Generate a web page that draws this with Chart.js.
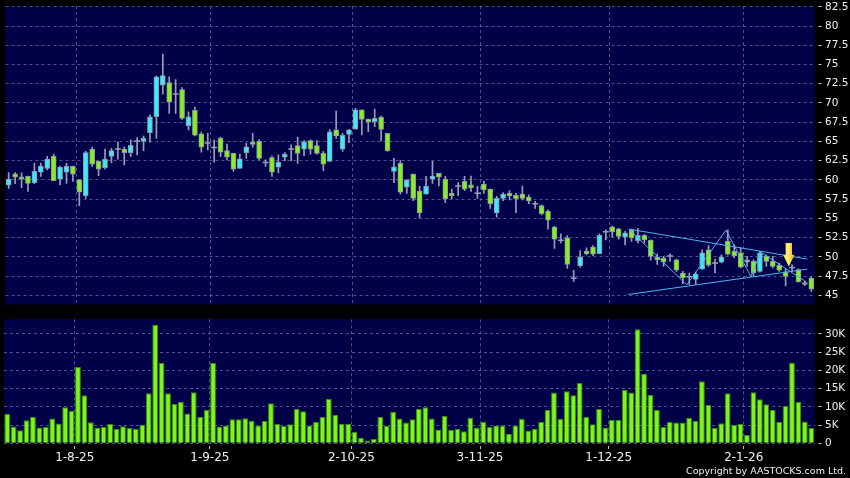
<!DOCTYPE html>
<html>
<head>
<meta charset="utf-8">
<script src="https://cdn.jsdelivr.net/npm/chart.js@4.4.1/dist/chart.umd.min.js"></script>
<style>
html, body { margin: 0; padding: 0; background: #000; }
#wrap { position: relative; width: 850px; height: 478px; overflow: hidden; background: #000; }
#pc { position: absolute; left: 0; top: 0; }
#vc { position: absolute; left: 0; top: 310px; }
#copy { position: absolute; right: 4px; top: 465px; font: 9.5px "DejaVu Sans"; line-height: 11px; color: #f0f0f0; white-space: nowrap; }
</style>
</head>
<body>
<div id="wrap">
  <canvas id="pc" width="850" height="310"></canvas>
  <canvas id="vc" width="850" height="168"></canvas>
  <div id="copy">Copyright by AASTOCKS.com Ltd.</div>
</div>
<script>
// daily candles, 18 Jul 2025 .. 19 Jan 2026 (126 sessions)
const opens = [59.3,60.8,60.4,60.45,59.65,61.0,61.5,63.05,60.1,61.0,
  61.75,60.05,57.95,64.0,62.4,61.6,63.05,64.0,64.0,63.55,
  65.05,65.0,66.15,68.2,72.3,72.65,71.15,71.75,67.05,69.05,
  66.0,64.8,64.2,65.4,63.8,63.45,61.5,63.55,64.9,65.0,
  62.25,62.9,61.65,62.95,64.0,64.45,64.0,65.1,64.45,63.45,
  62.4,66.5,64.0,65.9,66.6,69.1,67.9,67.55,68.15,66.05,
  61.1,62.15,59.05,60.75,58.55,58.15,60.1,60.85,60.1,58.25,
  59.2,59.8,59.35,58.25,59.45,58.8,55.7,57.6,58.25,58.0,
  58.15,57.75,56.9,56.65,55.9,53.85,52.15,52.45,47.2,48.8,
  50.75,51.25,50.4,53.25,53.9,53.65,52.55,53.5,52.1,52.8,
  52.15,49.95,49.85,50.1,49.6,47.9,47.4,47.05,48.4,50.9,
  49.2,49.3,52.0,50.7,50.5,49.3,49.4,48.1,50.05,49.4,
  48.9,48.05,48.6,48.35,46.6,47.25];
const highs = [60.95,60.95,60.9,60.5,62.15,62.15,63.05,63.35,61.8,62.15,
  61.8,60.05,63.7,64.25,62.45,64.0,64.1,64.9,64.25,65.2,
  65.5,65.7,68.45,73.5,76.35,73.4,73.05,72.0,68.85,69.45,
  66.2,66.05,65.2,65.55,64.65,63.45,63.35,64.75,66.05,65.25,
  62.6,63.1,63.25,63.55,64.55,65.55,65.1,65.2,65.1,63.7,
  66.55,68.95,66.05,66.55,69.3,69.1,67.9,69.2,68.3,66.05,
  62.8,62.5,60.0,60.75,59.15,60.45,62.4,60.85,60.45,58.8,
  59.65,60.45,60.5,59.15,59.85,58.8,57.85,58.35,58.6,58.25,
  59.2,58.05,57.2,56.75,56.1,53.95,53.0,52.75,48.25,50.8,
  51.15,51.45,53.0,53.5,54.0,53.7,53.3,53.6,53.7,52.9,
  52.2,50.4,50.05,50.4,49.7,48.1,47.9,48.0,50.9,51.45,
  49.7,50.25,53.5,51.55,51.15,50.05,49.6,50.7,50.25,50.05,
  49.2,48.4,49.0,48.45,46.8,47.4];
const lows = [58.9,59.5,59.0,58.5,59.5,60.45,61.3,59.9,59.35,59.55,
  59.8,56.65,57.6,61.75,60.55,61.4,62.25,62.7,61.95,63.05,
  63.25,63.8,64.9,65.4,71.15,68.65,68.65,67.85,66.5,65.7,
  63.6,63.9,62.3,63.05,62.6,61.1,61.5,62.8,64.25,62.6,
  61.75,60.45,60.95,62.5,62.5,62.15,63.15,63.35,63.35,61.2,
  62.4,65.4,63.7,64.85,66.6,65.85,66.25,66.9,65.05,63.7,
  59.65,58.15,58.25,57.3,55.05,58.15,59.55,59.2,57.05,57.55,
  57.95,58.6,58.5,57.6,58.25,56.3,55.15,57.3,57.4,55.75,
  57.4,56.9,56.3,55.45,53.6,51.1,51.8,48.5,46.8,48.65,
  50.25,50.15,50.4,52.2,52.55,52.3,51.55,52.0,51.8,51.8,
  49.55,49.0,48.75,49.4,48.1,46.5,46.4,46.4,48.35,48.75,
  47.9,49.2,50.25,49.85,48.55,48.75,47.55,48.0,48.75,48.55,
  48.1,46.2,48.1,46.7,46.25,45.5];
const closes = [60.1,60.35,60.1,59.55,61.1,61.8,62.7,59.9,61.65,61.75,
  60.75,58.4,63.55,62.05,61.4,62.7,63.8,64.0,63.55,64.5,
  65.05,65.4,68.2,73.4,73.55,70.1,71.15,68.0,68.2,65.8,
  64.25,64.8,64.2,63.6,62.95,61.4,62.75,64.3,64.6,62.8,
  62.25,61.0,62.3,63.35,64.0,63.45,64.95,64.0,63.45,62.05,
  66.25,65.7,65.8,66.5,69.1,67.85,67.5,68.0,66.55,63.8,
  61.7,58.4,60.0,57.6,55.7,59.2,60.5,60.35,57.55,57.95,
  59.2,58.8,58.95,58.25,58.7,56.9,57.6,58.15,57.95,57.55,
  57.6,57.25,56.9,55.6,54.75,52.3,52.15,49.0,47.2,49.95,
  50.4,50.35,52.8,53.25,53.25,52.65,53.1,52.45,52.8,52.2,
  50.05,49.6,49.3,50.1,48.25,47.25,47.4,47.75,50.5,48.9,
  49.2,49.95,50.35,50.15,48.65,49.6,47.9,50.5,49.4,48.75,
  48.25,47.45,48.6,46.75,46.4,45.8];
// volume in thousands of shares
const volumesK = [8.0,4.6,3.6,6.3,7.3,4.3,4.5,6.8,5.4,9.9,
  8.9,21.0,13.2,5.8,4.3,4.5,5.3,4.0,4.7,4.2,
  4.0,5.1,13.7,32.5,22.0,13.7,10.8,11.4,8.2,14.0,
  7.2,9.1,22.0,4.6,4.9,6.6,6.6,6.9,6.2,4.9,
  6.1,11.0,5.3,4.8,5.2,9.4,8.8,4.9,5.9,7.2,
  12.2,7.8,5.3,5.3,3.2,1.5,0.8,1.2,7.3,4.8,
  8.6,6.8,5.7,6.6,9.4,9.9,6.8,3.8,7.5,3.7,
  4.0,3.3,7.0,4.3,5.9,4.5,4.9,4.9,2.6,4.9,
  6.7,3.5,4.0,5.9,9.1,13.9,6.7,14.3,13.2,16.5,
  7.3,5.2,9.4,4.3,6.4,6.4,14.7,13.9,31.3,19.1,
  13.3,9.2,4.5,5.9,5.7,5.7,7.0,6.2,17.0,10.5,
  4.2,5.5,13.7,5.1,5.3,2.3,14.0,12.1,10.7,9.1,
  5.9,10.2,22.0,11.3,6.0,4.2];

// date ticks: session index of each labelled day
const tickIdx = [10, 31, 53, 73, 93, 114];
const tickLabels = ['1-8-25', '1-9-25', '2-10-25', '3-11-25', '1-12-25', '2-1-26'];
const priceTicks = [45, 47.5, 50, 52.5, 55, 57.5, 60, 62.5, 65, 67.5, 70, 72.5, 75, 77.5, 80, 82.5];
const volTicks = [0, 5, 10, 15, 20, 25, 30];

// drawn pattern lines (session index, price)
const upperLine = [{x: 96.6, y: 53.6}, {x: 124.4, y: 49.7}];
const lowerLine = [{x: 96.5, y: 45.1}, {x: 124.4, y: 48.4}];
const zigzag = [{x: 96.6, y: 53.6}, {x: 105.6, y: 46.35}, {x: 111.7, y: 53.45},
  {x: 115.6, y: 47.45}, {x: 117.1, y: 50.6}, {x: 124.1, y: 46.8}];
const arrowMark = {x: 121.5, top: 51.8, tip: 48.75};

const NAVY = '#000048';
const GRID = 'rgba(110,110,160,0.75)';
const TXT = '#f0f0f0';
const UP = '#3ee8ff', DOWN = '#86ef1e', WICK = '#9c9cb8';

Chart.defaults.font.family = 'DejaVu Sans';

const navyBg = {
  id: 'navyBg',
  beforeDraw(c) {
    const a = c.chartArea, g = c.ctx;
    g.save();
    g.fillStyle = NAVY;
    g.fillRect(a.left, a.top, a.right - a.left, a.bottom - a.top);
    g.restore();
  }
};

const arrowPlugin = {
  id: 'arrow',
  afterDatasetsDraw(c) {
    const g = c.ctx, xs = c.scales.x, ys = c.scales.y;
    const cx = xs.getPixelForValue(arrowMark.x);
    const yt = ys.getPixelForValue(arrowMark.top);
    const yb = ys.getPixelForValue(arrowMark.tip);
    const neck = yt + (yb - yt) * 0.5;
    const grad = g.createLinearGradient(cx - 6, 0, cx + 6, 0);
    grad.addColorStop(0, '#ffd82a');
    grad.addColorStop(0.45, '#fff27c');
    grad.addColorStop(1, '#e8a000');
    g.save();
    g.fillStyle = grad;
    g.beginPath();
    g.moveTo(cx - 3.2, yt);
    g.lineTo(cx + 3.2, yt);
    g.lineTo(cx + 3.2, neck);
    g.lineTo(cx + 5.8, neck);
    g.lineTo(cx, yb);
    g.lineTo(cx - 5.8, neck);
    g.lineTo(cx - 3.2, neck);
    g.closePath();
    g.fill();
    g.restore();
  }
};

function xAxis(showLabels) {
  return {
    type: 'linear', min: -0.5, max: 125.5, offset: false,
    afterBuildTicks: s => { s.ticks = tickIdx.map(i => ({value: i + 0.5})); },
    afterFit: s => { s.height = showLabels ? 34.7 : 0; s.paddingLeft = 0; s.paddingRight = 0; },
    ticks: {
      display: showLabels, autoSkip: false, maxRotation: 0, padding: 1.5,
      color: TXT, font: {size: 12},
      callback: (v, k) => tickLabels[k]
    },
    grid: {offset: false, color: GRID, lineWidth: 1, drawTicks: showLabels, tickLength: 6,
      tickColor: '#c0c0c0', tickBorderDash: [0, 3, 3, 20], borderDash: [3, 3]},
    border: {display: false, dash: [3, 3]}
  };
}

function yAxis(min, max, ticks, fmt) {
  return {
    position: 'right', min: min, max: max,
    afterBuildTicks: s => { s.ticks = ticks.map(v => ({value: v})); },
    afterFit: s => { s.width = 35.5; s.paddingTop = 0; s.paddingBottom = 0; },
    ticks: {color: TXT, font: {size: 10.5}, padding: 3.5, callback: fmt},
    grid: {color: GRID, lineWidth: 1, tickLength: 7, tickColor: '#c8c8c8',
      tickBorderDash: [0, 3.5, 3, 20], borderDash: [3, 3]},
    border: {display: false, dash: [3, 3]}
  };
}

// candle pieces built from the OHLC arrays
const wickData = lows.map((l, i) => ({x: i, y: [l, highs[i]]}));
const bodyData = [], bodyFill = [];
const dojiData = [];
opens.forEach((o, i) => {
  const c = closes[i];
  if (o === c) { dojiData.push({x: i, y: o}); return; }
  bodyData.push({x: i, y: [o, c]});
  bodyFill.push(c > o ? UP : DOWN);
});

const common = {
  responsive: false, animation: false, devicePixelRatio: 1, events: [],
  plugins: {legend: {display: false}, tooltip: {enabled: false}}
};

new Chart(document.getElementById('pc'), {
  type: 'bar',
  data: {
    datasets: [
      {type: 'line', data: upperLine, borderColor: '#52b2f0', borderWidth: 1, pointRadius: 0, order: 0},
      {type: 'line', data: lowerLine, borderColor: '#52b2f0', borderWidth: 1, pointRadius: 0, order: 0},
      {type: 'line', data: zigzag, borderColor: '#52b2f0', borderWidth: 1, pointRadius: 0, order: 0},
      {type: 'line', data: dojiData, showLine: false, pointStyle: 'line', pointRadius: 3,
        pointBorderColor: WICK, pointBorderWidth: 1.5, order: 1},
      {data: bodyData, backgroundColor: bodyFill, borderColor: '#8a9a9e', borderWidth: 1,
        borderSkipped: false, barThickness: 5, minBarLength: 2, grouped: false, order: 1},
      {data: wickData, backgroundColor: WICK, borderWidth: 0, barThickness: 1, grouped: false, order: 2}
    ]
  },
  options: Object.assign({}, common, {
    layout: {padding: {left: 4, top: 6, right: 0, bottom: 5}},
    scales: {
      x: xAxis(false),
      y: yAxis(43.8, 82.6, priceTicks, v => String(v))
    }
  }),
  plugins: [navyBg, arrowPlugin]
});

new Chart(document.getElementById('vc'), {
  type: 'bar',
  data: {
    datasets: [{
      data: volumesK.map((v, i) => ({x: i, y: v})),
      backgroundColor: '#7cf51a', borderColor: '#3a8c0c', borderWidth: 1,
      borderSkipped: 'bottom', barPercentage: 0.9, categoryPercentage: 1.0
    }]
  },
  options: Object.assign({}, common, {
    layout: {padding: {left: 4, top: 9.3, right: 0, bottom: 0}},
    scales: {
      x: xAxis(true),
      y: yAxis(0, 34, volTicks, v => v === 0 ? '0' : v + 'K')
    }
  }),
  plugins: [navyBg]
});
</script>
</body>
</html>
